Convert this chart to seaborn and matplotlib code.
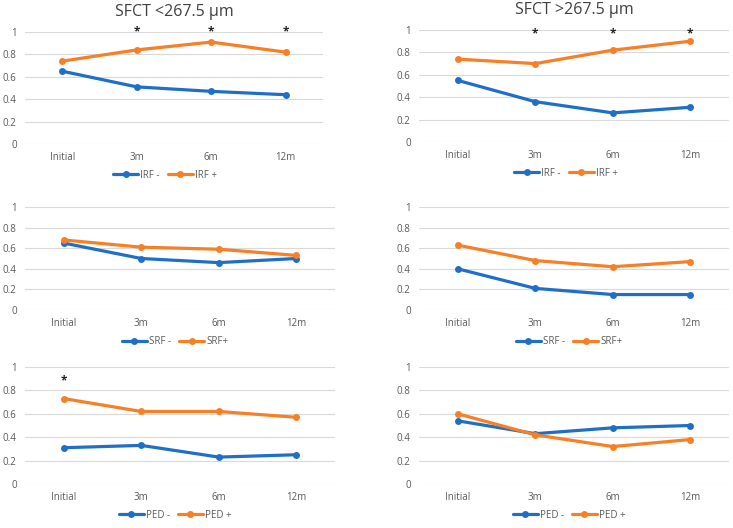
import pandas as pd
import matplotlib.pyplot as plt
import seaborn as sns

TIMES = ["Initial", "3m", "6m", "12m"]

IRF_NEG_THIN = [0.65, 0.51, 0.47, 0.44]
IRF_POS_THIN = [0.74, 0.84, 0.91, 0.82]
IRF_NEG_THICK = [0.55, 0.36, 0.26, 0.31]
IRF_POS_THICK = [0.74, 0.70, 0.82, 0.90]

SRF_NEG_THIN = [0.65, 0.50, 0.46, 0.50]
SRF_POS_THIN = [0.68, 0.61, 0.59, 0.53]
SRF_NEG_THICK = [0.40, 0.21, 0.15, 0.15]
SRF_POS_THICK = [0.63, 0.48, 0.42, 0.47]

PED_NEG_THIN = [0.31, 0.33, 0.23, 0.25]
PED_POS_THIN = [0.73, 0.62, 0.62, 0.57]
PED_NEG_THICK = [0.54, 0.43, 0.48, 0.50]
PED_POS_THICK = [0.60, 0.42, 0.32, 0.38]

# significance stars: (category index, height)
STARS_IRF_THIN = [(1, 1.0), (2, 1.0), (3, 1.0)]
STARS_IRF_THICK = [(1, 0.97), (2, 0.97), (3, 0.97)]
STARS_PED_THIN = [(0, 0.88)]

BLUE = "#1f6fc8"
ORANGE = "#f77f25"
GREY = "#595959"

W, H = 733, 528

# panel boxes in pixels: left, right, top (y=1), bottom (y=0); legend centre
PANELS = [
    dict(box=(25, 323, 32, 144), leg=(165, 175), title="SFCT <267.5 µm",
         labels=("IRF -", "IRF +"), neg=IRF_NEG_THIN, pos=IRF_POS_THIN, stars=STARS_IRF_THIN),
    dict(box=(419, 729, 30, 142), leg=(566, 173), title="SFCT >267.5 µm",
         labels=("IRF -", "IRF +"), neg=IRF_NEG_THICK, pos=IRF_POS_THICK, stars=STARS_IRF_THICK),
    dict(box=(25, 335, 207, 310), leg=(175, 342), title=None,
         labels=("SRF -", "SRF+"), neg=SRF_NEG_THIN, pos=SRF_POS_THIN, stars=[]),
    dict(box=(419, 729, 207, 310), leg=(569, 342), title=None,
         labels=("SRF -", "SRF+"), neg=SRF_NEG_THICK, pos=SRF_POS_THICK, stars=[]),
    dict(box=(25, 335, 367, 484), leg=(175, 515), title=None,
         labels=("PED -", "PED +"), neg=PED_NEG_THIN, pos=PED_POS_THIN, stars=STARS_PED_THIN),
    dict(box=(419, 729, 367, 484), leg=(569, 515), title=None,
         labels=("PED -", "PED +"), neg=PED_NEG_THICK, pos=PED_POS_THICK, stars=[]),
]


def make_df(labels, neg, pos):
    rows = []
    for lab, vals in zip(labels, (neg, pos)):
        for t, v in zip(TIMES, vals):
            rows.append({"time": t, "value": v, "group": lab})
    return pd.DataFrame(rows)


def draw_panel(fig, p):
    l, r, t, b = p["box"]
    ax = fig.add_axes([l / W, 1 - b / H, (r - l) / W, (b - t) / H])
    df = make_df(p["labels"], p["neg"], p["pos"])
    sns.lineplot(data=df, x="time", y="value", hue="group", palette=[BLUE, ORANGE],
                 marker="o", markersize=5, markeredgewidth=0, linewidth=2.3,
                 ax=ax, legend=True, clip_on=False)
    ax.set_xlim(-0.5, 3.5)
    ax.set_ylim(0, 1)
    ax.set_yticks([0, 0.2, 0.4, 0.6, 0.8, 1])
    ax.set_yticklabels(["0", "0.2", "0.4", "0.6", "0.8", "1"])
    ax.grid(axis="y", color="#d9d9d9", linewidth=0.8)
    ax.grid(axis="x", visible=False)
    ax.set_axisbelow(True)
    for s in ax.spines.values():
        s.set_visible(False)
    ax.tick_params(axis="x", length=0, labelsize=7, colors=GREY, pad=6)
    ax.tick_params(axis="y", length=0, labelsize=7, colors=GREY, pad=6)
    ax.set_xlabel("")
    ax.set_ylabel("")
    for i, y in p["stars"]:
        ax.text(i, y, "*", ha="center", va="center", fontsize=8.5,
                fontweight="bold", color="#222222")
    if p["title"]:
        ax.text(0.5, 1.0 + 20 / (b - t), p["title"], transform=ax.transAxes,
                ha="center", va="center", fontsize=11.5, color="#404040")
    handles, labs = ax.get_legend_handles_labels()
    ax.legend(handles, labs, loc="center", ncol=2, frameon=False,
              bbox_to_anchor=(p["leg"][0] / W, 1 - p["leg"][1] / H),
              bbox_transform=fig.transFigure, fontsize=7, labelcolor=GREY,
              handlelength=2.6, handletextpad=0.2, columnspacing=0.8)


sns.set_theme(style="white")
plt.rcParams["font.family"] = ["Open Sans", "DejaVu Sans"]

fig = plt.figure(figsize=(W / 100, H / 100), dpi=100)
for p in PANELS:
    draw_panel(fig, p)

fig.savefig("out.png", dpi=100, facecolor="white")
